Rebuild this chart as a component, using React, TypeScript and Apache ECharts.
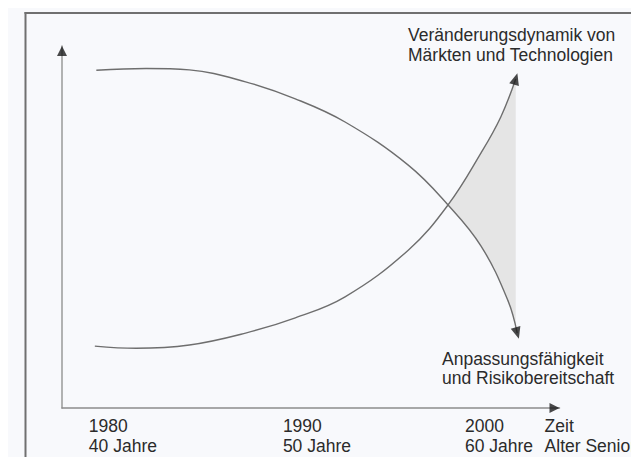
import React, { useEffect, useRef } from "react";
import * as echarts from "echarts";

// x-axis label positions (axis units 0..100) and texts
const tickPositions = [5.4, 44.4, 81, 97];
const tickYears = ["1980", "1990", "2000", "Zeit"];
const tickAges = ["40 Jahre", "50 Jahre", "60 Jahre", "Alter Senior"];

// Curve: Anpassungsfähigkeit und Risikobereitschaft (falling)
const anpassungX = [6.9, 16.9, 25.6, 36.9, 46.9, 56.9, 69.6, 77.6, 84.2, 89.6, 91.5];
const anpassungY = [93.3, 93.8, 93.4, 90.1, 85.4, 79.0, 67.1, 56.1, 44.8, 29.8, 20.7];

// Curve: Veränderungsdynamik von Märkten und Technologien (rising)
const dynamikX = [6.6, 14.9, 25.6, 36.9, 46.9, 56.9, 69.6, 77.6, 84.2, 88.2, 91.2];
const dynamikY = [17.1, 16.5, 17.4, 20.7, 24.9, 30.7, 43.6, 56.1, 70.4, 80.4, 90.9];

// Shaded gap between the curves after the crossing
const gapUpperX = [77.6, 80.9, 84.2, 86.2, 88.2, 89.8, 91.2];
const gapUpperY = [56.1, 63.0, 70.4, 75.3, 80.4, 85.6, 90.6];
const gapLowerX = [91.2, 89.6, 86.9, 84.2, 80.9, 77.6];
const gapLowerY = [22.7, 29.8, 38.8, 44.8, 51.1, 56.1];

// Arrow heads (axis ends and curve ends)
const arrowX = [0, 100, 91.5, 91.2];
const arrowY = [100, 0, 20.7, 90.9];
const arrowRotate = [0, -90, 196, -16];

const topLabel = ["Veränderungsdynamik von", "Märkten und Technologien"];
const bottomLabel = ["Anpassungsfähigkeit", "und Risikobereitschaft"];

const FONT = '"Liberation Sans", Arial, sans-serif';

export default function App() {
  const ref = useRef<HTMLDivElement>(null);

  useEffect(() => {
    if (!ref.current) return;
    const chart = echarts.init(ref.current, undefined, { renderer: "svg" });

    const anpassung = anpassungX.map((x, i) => [x, anpassungY[i]]);
    const dynamik = dynamikX.map((x, i) => [x, dynamikY[i]]);
    const gap = [
      ...gapUpperX.map((x, i) => [x, gapUpperY[i]]),
      ...gapLowerX.map((x, i) => [x, gapLowerY[i]]),
    ];
    const arrows = arrowX.map((x, i) => ({
      value: [x, arrowY[i]],
      symbolRotate: arrowRotate[i],
      symbolOffset: i === 0 ? [0, "50%"] : i === 1 ? ["-50%", 0] : [0, 0],
      symbolSize: i < 2 ? [10, 10] : [10, 12],
    }));

    chart.setOption({
      animation: false,
      grid: { left: 54, right: 77, top: 38, bottom: 49, containLabel: false },
      xAxis: {
        type: "value",
        min: 0,
        max: 100,
        axisLine: { show: true, lineStyle: { color: "#8c8c8c", width: 1.5 } },
        axisTick: { show: false },
        splitLine: { show: false },
        axisLabel: {
          show: true,
          customValues: tickPositions,
          align: "left",
          margin: 8,
          lineHeight: 20,
          fontSize: 17.5,
          fontFamily: FONT,
          color: "#2b2b2b",
          formatter: (v: number) => {
            const i = tickPositions.findIndex((p) => Math.abs(p - v) < 0.01);
            return i < 0 ? "" : tickYears[i] + "\n" + tickAges[i];
          },
        },
      },
      yAxis: {
        type: "value",
        min: 0,
        max: 100,
        axisLine: { show: true, lineStyle: { color: "#9a9a9a", width: 1.5 } },
        axisTick: { show: false },
        axisLabel: { show: false },
        splitLine: { show: false },
      },
      series: [
        {
          type: "custom",
          coordinateSystem: "cartesian2d",
          data: gap,
          encode: { x: 0, y: 1 },
          silent: true,
          z: 1,
          renderItem: (params: any, api: any) => {
            if (params.dataIndex !== 0) return null;
            const pts = gap.map((p) => api.coord(p));
            return { type: "polygon", shape: { points: pts }, style: { fill: "#e5e5e5" } };
          },
        },
        {
          name: "Anpassungsfähigkeit und Risikobereitschaft",
          type: "line",
          data: anpassung,
          smooth: 0.4,
          showSymbol: false,
          clip: false,
          lineStyle: { color: "#6e6e6e", width: 1.4 },
          z: 2,
        },
        {
          name: "Veränderungsdynamik von Märkten und Technologien",
          type: "line",
          data: dynamik,
          smooth: 0.4,
          showSymbol: false,
          clip: false,
          lineStyle: { color: "#6e6e6e", width: 1.4 },
          z: 2,
        },
        {
          type: "scatter",
          data: arrows,
          symbol: "triangle",
          clip: false,
          itemStyle: { color: "#1c1c1c" },
          silent: true,
          z: 3,
        },
      ],
      graphic: [
        {
          type: "line",
          shape: { x1: 16.5, y1: 5, x2: 631, y2: 5 },
          style: { stroke: "#707070", lineWidth: 2 },
          z: 10,
        },
        {
          type: "line",
          shape: { x1: 17.5, y1: 4, x2: 17.5, y2: 449 },
          style: { stroke: "#707070", lineWidth: 2 },
          z: 10,
        },
        {
          type: "text",
          x: 400,
          y: 17,
          z: 10,
          style: {
            text: topLabel.join("\n"),
            font: "17.5px " + FONT,
            fill: "#2b2b2b",
            lineHeight: 20,
            align: "left",
            verticalAlign: "top",
          },
        },
        {
          type: "text",
          x: 434,
          y: 341,
          z: 10,
          style: {
            text: bottomLabel.join("\n"),
            font: "17.5px " + FONT,
            fill: "#2b2b2b",
            lineHeight: 19.5,
            align: "left",
            verticalAlign: "top",
          },
        },
      ],
    });

    return () => chart.dispose();
  }, []);

  return (
    <div
      ref={ref}
      style={{ width: 631, height: 449, background: "#f8f9fc" }}
    />
  );
}
